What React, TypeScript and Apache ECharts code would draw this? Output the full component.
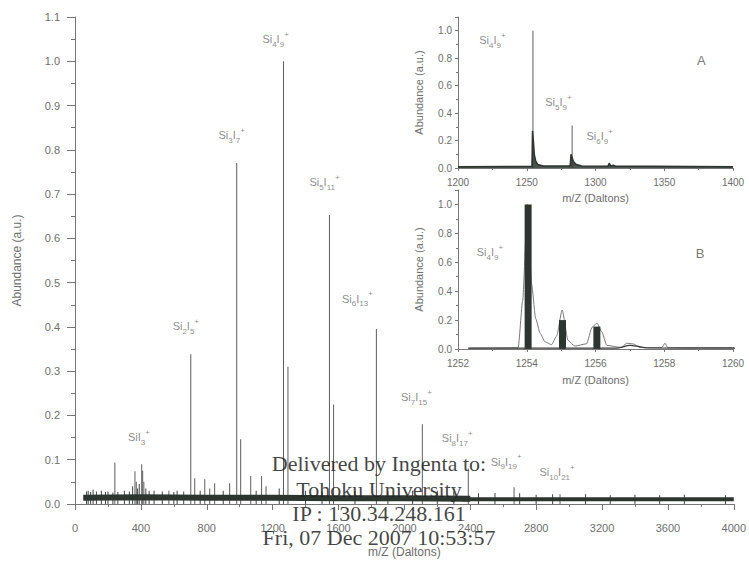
import React, { useEffect, useRef } from 'react';
import * as echarts from 'echarts';

// ---------- main spectrum ----------
const mainPeakMz = [242, 364, 372, 405, 411, 418, 570, 703, 727, 788, 818, 848, 939, 982, 1006, 1067, 1133, 1160, 1266, 1293, 1545, 1570, 1830, 2109, 2388, 2666, 2945];
const mainPeakAbund = [0.094, 0.074, 0.05, 0.09, 0.075, 0.05, 0.03, 0.338, 0.058, 0.056, 0.035, 0.047, 0.047, 0.77, 0.146, 0.063, 0.063, 0.04, 1.0, 0.31, 0.653, 0.225, 0.395, 0.18, 0.08, 0.038, 0.022];
const grassMz = [70, 80, 95, 110, 130, 160, 185, 200, 230, 260, 300, 330, 350, 380, 390, 430, 450, 480, 530, 600, 620, 660, 760, 900, 1100, 1240, 1400, 1500, 1700, 1900, 2050, 2200, 2300, 2450, 2550, 2700, 2800, 2900, 3100, 3250, 3400, 3550, 3700, 3950];
const grassAbund = [0.028, 0.03, 0.027, 0.032, 0.028, 0.03, 0.027, 0.028, 0.026, 0.027, 0.03, 0.028, 0.04, 0.035, 0.045, 0.035, 0.03, 0.03, 0.028, 0.027, 0.03, 0.028, 0.03, 0.03, 0.03, 0.035, 0.03, 0.028, 0.03, 0.028, 0.03, 0.03, 0.028, 0.024, 0.025, 0.024, 0.021, 0.022, 0.022, 0.02, 0.021, 0.02, 0.021, 0.02];
// noise band centre line (two sections of different thickness)
const bandLeftMz = [50, 400, 800, 1200, 1600, 2000, 2400];
const bandLeftAbund = [0.014, 0.015, 0.014, 0.014, 0.013, 0.013, 0.012];
const bandRightMz = [2350, 2600, 3200, 4000];
const bandRightAbund = [0.011, 0.011, 0.011, 0.011];
const mainLabelText = ['Si_4I_9^+', 'Si_3I_7^+', 'Si_5I_1_1^+', 'Si_6I_1_3^+', 'Si_2I_5^+', 'SiI_3^+', 'Si_7I_1_5^+', 'Si_8I_1_7^+', 'Si_9I_1_9^+', 'Si_1_0I_2_1^+'];
const mainLabelMz = [1218, 951, 1515, 1715, 673, 388, 2073, 2321, 2618, 2927];
const mainLabelAbund = [1.05, 0.833, 0.727, 0.464, 0.401, 0.151, 0.241, 0.149, 0.095, 0.072];

// ---------- inset A ----------
const insetAStickMz = [1254.5, 1283];
const insetAStickAbund = [1.0, 0.31];
const insetAEnvMz = [1200, 1253.8, 1254.2, 1254.8, 1255.5, 1256.5, 1258, 1262, 1281.6, 1282.2, 1283, 1284, 1286, 1290, 1309, 1310, 1311, 1313, 1315, 1340, 1400];
const insetAEnvAbund = [0.01, 0.012, 0.27, 0.2, 0.1, 0.05, 0.025, 0.015, 0.015, 0.1, 0.075, 0.045, 0.025, 0.015, 0.013, 0.035, 0.015, 0.02, 0.012, 0.012, 0.01];
const insetALabelText = ['Si_4I_9^+', 'Si_5I_9^+', 'Si_6I_9^+'];
const insetALabelMz = [1225, 1273, 1303];
const insetALabelAbund = [0.93, 0.48, 0.23];

// ---------- inset B ----------
const insetBBarMz = [1254.04, 1255.04, 1256.04];
const insetBBarAbund = [1.0, 0.2, 0.155];
const insetBCurveMz = [1252.3, 1253.75, 1253.88, 1254.02, 1254.14, 1254.26, 1254.39, 1254.53, 1254.72, 1254.87, 1255.03, 1255.2, 1255.4, 1255.74, 1255.9, 1256.04, 1256.18, 1256.33, 1256.76, 1256.9, 1257.1, 1257.3, 1257.93, 1258.02, 1258.1, 1260.06];
const insetBCurveAbund = [0.005, 0.008, 0.33, 1.0, 0.45, 0.21, 0.108, 0.05, 0.03, 0.09, 0.27, 0.06, 0.02, 0.036, 0.15, 0.18, 0.12, 0.025, 0.01, 0.04, 0.035, 0.01, 0.01, 0.04, 0.01, 0.01];
const insetBBaseMz = [1252.3, 1256.6, 1257.0, 1257.2, 1257.5, 1260.06];
const insetBBaseAbund = [0.006, 0.006, 0.025, 0.02, 0.008, 0.006];
const insetBLabelText = ['Si_4I_9^+'];
const insetBLabelMz = [1252.93];
const insetBLabelAbund = [0.67];

const panelLetters = ['A', 'B'];
const panelLetterMz = [1377, 1259.04];
const panelLetterAbund = [0.78, 0.66];

const watermarkLines = ['Delivered by Ingenta to:', 'Tohoku University', 'IP : 130.34.248.161', 'Fri, 07 Dec 2007 10:53:57'];

const FONT = '"Liberation Sans", Arial, Helvetica, sans-serif';
const SERIF = '"Liberation Serif", "Times New Roman", serif';
const AX = '#777777';
const TXT = '#6e6e6e';
const DARK = '#2c362e';

function zip(a: number[], b: number[]) {
  return a.map((v, i) => [v, b[i]]);
}

function toRich(s: string) {
  let out = '';
  let i = 0;
  while (i < s.length) {
    const c = s[i];
    if (c === '_') {
      let j = i;
      let d = '';
      while (j < s.length && s[j] === '_') {
        d += s[j + 1];
        j += 2;
      }
      out += `{s|${d}}`;
      i = j;
    } else if (c === '^') {
      out += `{p|${s[i + 1]}}`;
      i += 2;
    } else {
      let j = i;
      let t = '';
      while (j < s.length && s[j] !== '_' && s[j] !== '^') {
        t += s[j];
        j++;
      }
      out += `{b|${t}}`;
      i = j;
    }
  }
  return out;
}

const rich = {
  b: { fontSize: 11, color: TXT, fontFamily: FONT, lineHeight: 18, verticalAlign: 'middle' },
  s: { fontSize: 8, color: TXT, fontFamily: FONT, lineHeight: 8, verticalAlign: 'bottom' },
  p: { fontSize: 8, color: TXT, fontFamily: FONT, lineHeight: 9, verticalAlign: 'top' },
};

function labelSeries(gi: number, texts: string[], xs: number[], ys: number[]) {
  return {
    type: 'scatter',
    xAxisIndex: gi,
    yAxisIndex: gi,
    symbolSize: 1,
    silent: true,
    itemStyle: { color: 'rgba(0,0,0,0)' },
    label: {
      show: true,
      position: 'inside',
      formatter: (p: any) => p.name,
      rich,
    },
    data: texts.map((t, i) => ({ name: toRich(t), value: [xs[i], ys[i]] })),
    z: 5,
  };
}

function xAxisDef(gi: number, min: number, max: number, interval: number, margin: number, nameGap: number, fs: number) {
  return {
    gridIndex: gi,
    type: 'value',
    min,
    max,
    interval,
    name: 'm/Z (Daltons)',
    nameLocation: 'middle',
    nameGap,
    nameTextStyle: { color: TXT, fontFamily: FONT, fontSize: fs + 1 },
    axisLine: { show: true, onZero: false, lineStyle: { color: AX, width: 1 } },
    axisTick: { show: true, length: gi === 0 ? 6 : 3, lineStyle: { color: AX } },
    minorTick: { show: true, splitNumber: 2, length: gi === 0 ? 3 : 2, lineStyle: { color: AX } },
    axisLabel: { color: TXT, fontFamily: FONT, fontSize: fs, margin, formatter: (v: number) => String(v) },
    splitLine: { show: false },
  };
}

function yAxisDef(gi: number, interval: number, margin: number, nameGap: number, fs: number) {
  return {
    gridIndex: gi,
    type: 'value',
    min: 0,
    max: 1.1,
    interval,
    name: 'Abundance (a.u.)',
    nameLocation: 'middle',
    nameGap,
    nameTextStyle: { color: TXT, fontFamily: FONT, fontSize: fs + 1 },
    axisLine: { show: true, onZero: false, lineStyle: { color: AX, width: 1 } },
    axisTick: { show: true, length: gi === 0 ? 8 : 3, lineStyle: { color: AX } },
    minorTick: { show: true, splitNumber: 2, length: gi === 0 ? 4 : 2, lineStyle: { color: AX } },
    axisLabel: {
      color: TXT,
      fontFamily: FONT,
      fontSize: fs,
      margin,
      formatter: (v: number) => {
        const k = v / interval;
        return Math.abs(k - Math.round(k)) < 1e-6 ? v.toFixed(1) : '';
      },
    },
    splitLine: { show: false },
  };
}

const option: any = {
  animation: false,
  backgroundColor: '#ffffff',
  grid: [
    { left: 75, right: 14, top: 17, height: 488 },
    { left: 458, right: 16, top: 17, height: 151 },
    { left: 458, right: 16, top: 190, height: 159 },
  ],
  xAxis: [
    xAxisDef(0, 0, 4000, 400, 18, 42, 11),
    xAxisDef(1, 1200, 1400, 50, 9, 24, 10),
    xAxisDef(2, 1252, 1260, 2, 9, 25, 10),
  ],
  yAxis: [
    yAxisDef(0, 0.1, 15, 52, 11),
    yAxisDef(1, 0.2, 6, 34, 10),
    yAxisDef(2, 0.2, 6, 34, 10),
  ],
  series: [
    // main sticks
    {
      type: 'bar',
      xAxisIndex: 0,
      yAxisIndex: 0,
      barWidth: 1,
      barGap: '-100%',
      itemStyle: { color: '#5e5e5e' },
      data: zip(mainPeakMz, mainPeakAbund),
      silent: true,
    },
    {
      type: 'bar',
      xAxisIndex: 0,
      yAxisIndex: 0,
      barWidth: 1,
      barGap: '-100%',
      itemStyle: { color: '#3d4640' },
      data: zip(grassMz, grassAbund),
      silent: true,
    },
    // noise band (thick line)
    {
      type: 'line',
      xAxisIndex: 0,
      yAxisIndex: 0,
      symbol: 'none',
      lineStyle: { color: DARK, width: 6, cap: 'butt' },
      data: zip(bandLeftMz, bandLeftAbund),
      silent: true,
    },
    {
      type: 'line',
      xAxisIndex: 0,
      yAxisIndex: 0,
      symbol: 'none',
      lineStyle: { color: DARK, width: 4, cap: 'butt' },
      data: zip(bandRightMz, bandRightAbund),
      silent: true,
    },
    labelSeries(0, mainLabelText, mainLabelMz, mainLabelAbund),
    // inset A
    {
      type: 'bar',
      xAxisIndex: 1,
      yAxisIndex: 1,
      barWidth: 1,
      itemStyle: { color: '#5e5e5e' },
      data: zip(insetAStickMz, insetAStickAbund),
      silent: true,
    },
    {
      type: 'line',
      xAxisIndex: 1,
      yAxisIndex: 1,
      symbol: 'none',
      lineStyle: { color: DARK, width: 1.5 },
      areaStyle: { color: DARK, opacity: 0.85, origin: 'start' },
      data: zip(insetAEnvMz, insetAEnvAbund),
      silent: true,
    },
    labelSeries(1, insetALabelText, insetALabelMz, insetALabelAbund),
    // inset B
    {
      type: 'bar',
      xAxisIndex: 2,
      yAxisIndex: 2,
      barWidth: 7,
      itemStyle: { color: DARK },
      data: zip(insetBBarMz, insetBBarAbund),
      silent: true,
    },
    {
      type: 'line',
      xAxisIndex: 2,
      yAxisIndex: 2,
      symbol: 'none',
      smooth: 0.2,
      smoothMonotone: 'x',
      lineStyle: { color: '#7a7a7a', width: 1 },
      data: zip(insetBCurveMz, insetBCurveAbund),
      silent: true,
      z: 1,
    },
    {
      type: 'line',
      xAxisIndex: 2,
      yAxisIndex: 2,
      symbol: 'none',
      smooth: 0.3,
      lineStyle: { color: '#3a3a3a', width: 1.3 },
      data: zip(insetBBaseMz, insetBBaseAbund),
      silent: true,
    },
    labelSeries(2, insetBLabelText, insetBLabelMz, insetBLabelAbund),
    // panel letters
    ...[1, 2].map((gi, k) => ({
      type: 'scatter',
      symbolSize: 1,
      silent: true,
      xAxisIndex: gi,
      yAxisIndex: gi,
      itemStyle: { color: 'rgba(0,0,0,0)' },
      label: { show: true, position: 'inside', formatter: () => panelLetters[k], color: '#555', fontSize: 13, fontFamily: FONT },
      data: [[panelLetterMz[k], panelLetterAbund[k]]],
    })),
  ],
  graphic: watermarkLines.map((t, i) => ({
    type: 'text',
    x: 379,
    y: [463, 489, 513, 537][i],
    z: 100,
    silent: true,
    style: {
      text: t,
      fill: 'rgba(35,35,35,0.85)',
      font: `22px ${SERIF}`,
      align: 'center',
      verticalAlign: 'middle',
      textAlign: 'center',
      textVerticalAlign: 'middle',
    },
  })),
};

export default function App() {
  const ref = useRef<HTMLDivElement>(null);
  useEffect(() => {
    const chart = echarts.init(ref.current!, null, { renderer: 'svg' });
    chart.setOption(option);
    return () => chart.dispose();
  }, []);
  return (
    <div
      ref={ref}
      style={{ position: 'fixed', left: 0, top: 0, width: 749, height: 563, background: '#fff' }}
    />
  );
}
